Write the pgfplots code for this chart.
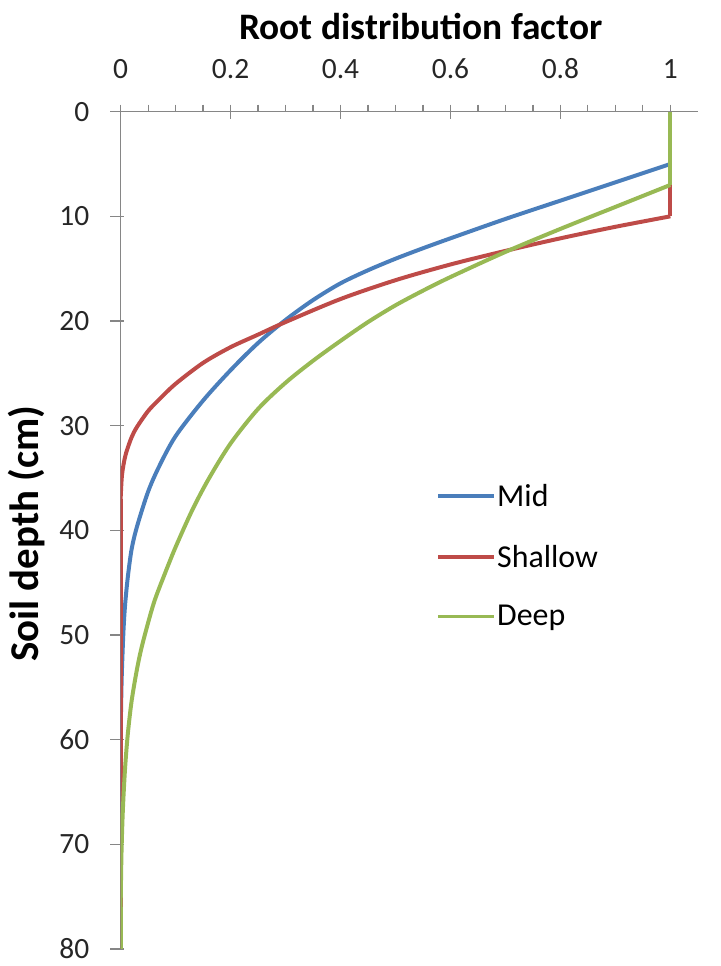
\documentclass[border=0pt]{standalone}
\usepackage{fontspec}
\setmainfont{Carlito}
\usepackage{pgfplots}
\pgfplotsset{compat=1.18}
\definecolor{cMid}{HTML}{4A7EBB}
\definecolor{cShallow}{HTML}{BE4B48}
\definecolor{cDeep}{HTML}{98B954}
\definecolor{axgray}{HTML}{868686}
\begin{document}
\begin{tikzpicture}
\path[use as bounding box] (-121pt,-17pt) rectangle (602pt,952pt);
\begin{axis}[
  scale only axis, width=579pt, height=840pt,
  xmin=0, xmax=1.05, ymin=0, ymax=80, y dir=reverse,
  axis x line*=top, axis y line*=left,
  axis line style={axgray, line width=1.2pt},
  xtick={0,0.2,0.4,0.6,0.8,1},
  xticklabels={0,0.2,0.4,0.6,0.8,1},
  minor x tick num=3,
  ytick={0,10,...,80},
  tick align=center,
  major tick length=14pt, minor tick length=7pt,
  xtick style={axgray, line width=1.2pt},
  minor x tick style={axgray, line width=1.2pt, yshift=3.5pt},
  ytick style={axgray, line width=1.2pt, xshift=-3.5pt},
  /pgf/number format/assume math mode=true,
  ticklabel style={font=\fontsize{29.5}{32}\selectfont, text=black!85},
  xticklabel style={yshift=23pt},
  yticklabel style={xshift=-21pt},
  xlabel={\textbf{Root distribution factor}},
  ylabel={\textbf{Soil depth (cm)}},
  xlabel style={font=\fontsize{37.5}{41}\selectfont, at={(rel axis cs:0.52,1)}, anchor=south, yshift=69pt},
  ylabel style={font=\fontsize{41}{45}\selectfont, at={(rel axis cs:0,0.496)}, anchor=south, yshift=72pt},
  legend style={at={(axis cs:0.574,35.5)}, anchor=north west, draw=none, fill=none,
    font=\fontsize{32}{35}\selectfont, row sep=35pt, inner sep=0pt,
    nodes={inner sep=1pt}},
  legend cell align=left,
  legend image code/.code={\draw[#1] (0pt,0pt) -- (56pt,0pt);},
  every axis plot/.append style={line width=4pt, line join=round},
]
% Mid
\addplot[cMid, smooth, tension=0.5] coordinates {(1,5) (0.9,6.75) (0.8,8.5) (0.7,10.25) (0.6,12.1) (0.55,13.05) (0.5,14.05) (0.45,15.15) (0.4,16.4) (0.35,18.0) (0.3,19.9) (0.25,22.1) (0.2,24.7) (0.15,27.6) (0.1,31.0) (0.07,33.9) (0.05,36.3) (0.03,39.6) (0.02,41.8) (0.013,44.5) (0.008,47.2) (0.005,49.8) (0.002,54) (0.0005,58) (0,61)};
\addlegendentry{Mid}
\addplot[cMid, forget plot] coordinates {(1,0) (1,5)};
\addplot[cMid, forget plot] coordinates {(0,61) (0,80)};
% Shallow
\addplot[cShallow, smooth, tension=0.5] coordinates {(1,10) (0.9,11.0) (0.8,12.1) (0.7,13.3) (0.6,14.6) (0.5,16.1) (0.4,17.9) (0.3,20.1) (0.25,21.3) (0.2,22.5) (0.15,24.0) (0.1,26.0) (0.07,27.5) (0.05,28.6) (0.03,30.1) (0.02,31.1) (0.01,32.6) (0.005,33.8) (0.002,35) (0,37)};
\addlegendentry{Shallow}
\addplot[cShallow, forget plot] coordinates {(1,0) (1,10)};
\addplot[cShallow, forget plot] coordinates {(0,37) (0,80)};
% Deep
\addplot[cDeep, smooth, tension=0.5] coordinates {(1,7) (0.9,9.1) (0.8,11.2) (0.7,13.4) (0.6,15.8) (0.55,17.1) (0.5,18.5) (0.45,20.1) (0.4,21.9) (0.35,23.8) (0.3,25.9) (0.25,28.4) (0.2,31.7) (0.16,35.1) (0.13,38.1) (0.1,41.6) (0.08,44.2) (0.06,47.0) (0.04,50.8) (0.03,53.2) (0.02,56.3) (0.013,59.5) (0.008,62.8) (0.004,66.8) (0.0015,71) (0,76)};
\addlegendentry{Deep}
\addplot[cDeep, forget plot] coordinates {(1,0) (1,7)};
\addplot[cDeep, forget plot] coordinates {(0,76) (0,80)};
\end{axis}
\end{tikzpicture}
\end{document}
